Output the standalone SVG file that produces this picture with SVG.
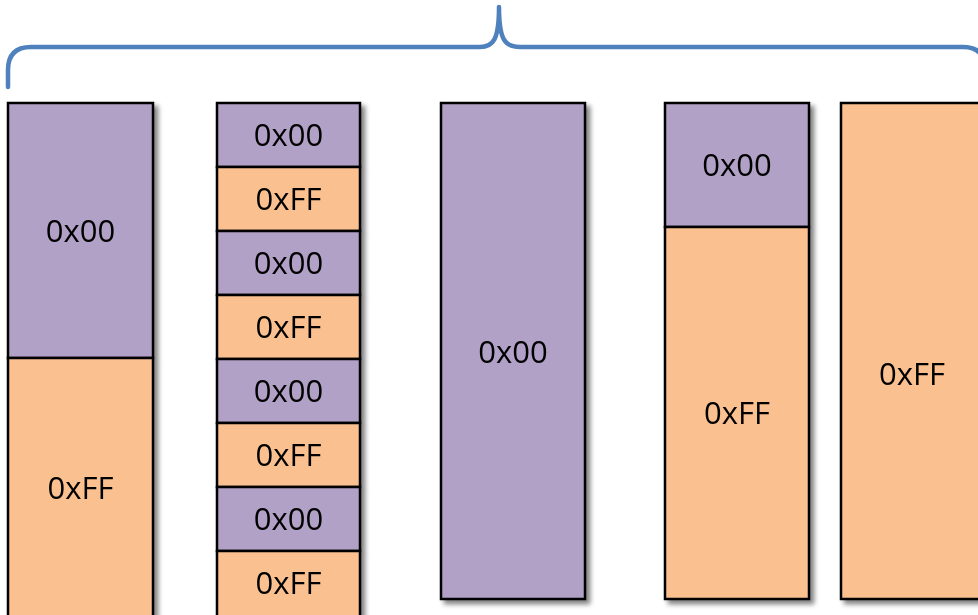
<svg xmlns="http://www.w3.org/2000/svg" width="978" height="615" viewBox="0 0 978 615">
<defs>
<filter id="sh" x="-20%" y="-20%" width="150%" height="150%">
<feGaussianBlur in="SourceAlpha" stdDeviation="2.5"/>
<feOffset dx="4" dy="4" result="b"/>
<feComponentTransfer><feFuncA type="linear" slope="0.5"/></feComponentTransfer>
<feMerge><feMergeNode/><feMergeNode in="SourceGraphic"/></feMerge>
</filter>
<style>
.p{fill:#B2A1C7;stroke:#000;stroke-width:2.5}
.o{fill:#FAC090;stroke:#000;stroke-width:2.5}
.t{font-family:"Open Sans","Liberation Sans",sans-serif;font-size:31px;fill:#000;text-anchor:middle}
.br{fill:none;stroke:#4F81BD;stroke-width:4.5;stroke-linecap:round;stroke-linejoin:round}
</style>
</defs>
<rect width="978" height="615" fill="#fff"/>
<g id="brace">
<path class="br" d="M8,87 L8,70 Q8,47 31,47 L480,47 C493,47 499,40 499,7 C499,40 505,47 520,47 L963,47 Q985,47 985,69 L985,87"/>
</g>
<g id="col1" filter="url(#sh)">
<rect class="p" x="8" y="103" width="145" height="255"/>
<rect class="o" x="8" y="358" width="145" height="270"/>
<text class="t" x="80.5" y="242">0x00</text>
<text class="t" x="80.5" y="499">0xFF</text>
</g>
<g id="col2" filter="url(#sh)">
<rect class="p" x="217" y="103" width="143" height="64"/>
<rect class="o" x="217" y="167" width="143" height="64"/>
<rect class="p" x="217" y="231" width="143" height="64"/>
<rect class="o" x="217" y="295" width="143" height="64"/>
<rect class="p" x="217" y="359" width="143" height="64"/>
<rect class="o" x="217" y="423" width="143" height="64"/>
<rect class="p" x="217" y="487" width="143" height="64"/>
<rect class="o" x="217" y="551" width="143" height="75"/>
<text class="t" x="288.5" y="146">0x00</text>
<text class="t" x="288.5" y="210">0xFF</text>
<text class="t" x="288.5" y="274">0x00</text>
<text class="t" x="288.5" y="338">0xFF</text>
<text class="t" x="288.5" y="402">0x00</text>
<text class="t" x="288.5" y="466">0xFF</text>
<text class="t" x="288.5" y="530">0x00</text>
<text class="t" x="288.5" y="594">0xFF</text>
</g>
<g id="col3" filter="url(#sh)">
<rect class="p" x="441" y="103" width="144" height="496"/>
<text class="t" x="513" y="363">0x00</text>
</g>
<g id="col4" filter="url(#sh)">
<rect class="p" x="665" y="103" width="144" height="124"/>
<rect class="o" x="665" y="227" width="144" height="372"/>
<text class="t" x="737" y="176">0x00</text>
<text class="t" x="737" y="424">0xFF</text>
</g>
<g id="col5" filter="url(#sh)">
<rect class="o" x="841" y="103" width="150" height="496"/>
<text class="t" x="912" y="385">0xFF</text>
</g>
</svg>
